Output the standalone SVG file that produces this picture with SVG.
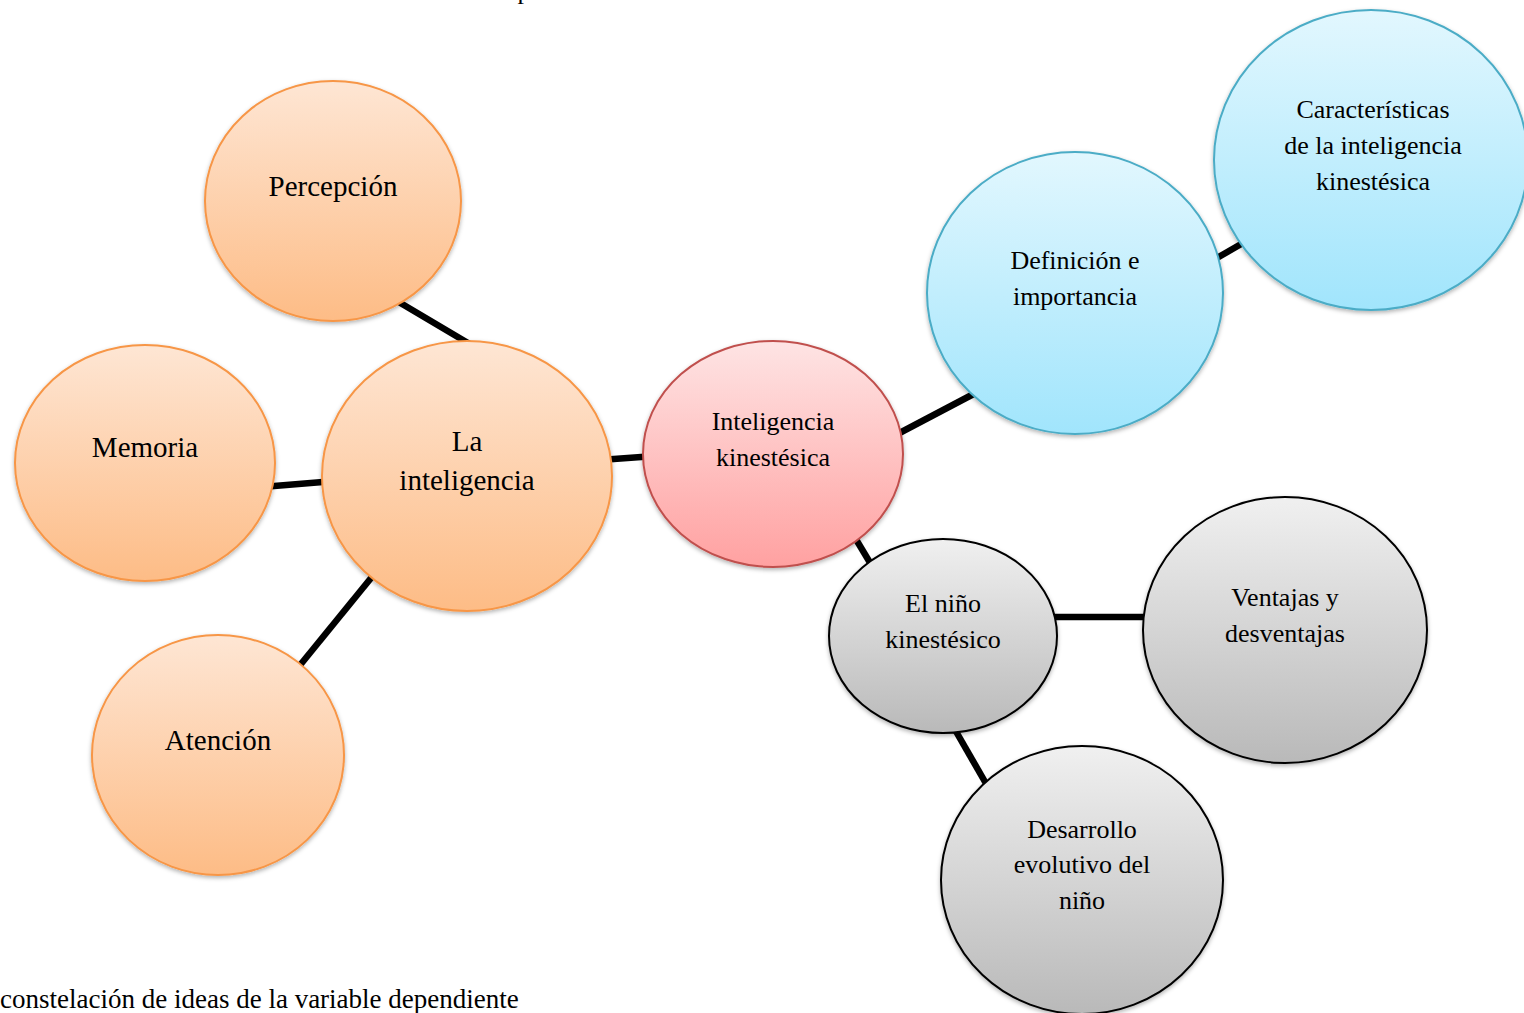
<svg xmlns="http://www.w3.org/2000/svg" width="1524" height="1013" viewBox="0 0 1524 1013">
<defs>
<linearGradient id="gOr" x1="0" y1="0" x2="0" y2="1"><stop offset="0" stop-color="#fee6d4"/><stop offset="1" stop-color="#fdbc86"/></linearGradient>
<linearGradient id="gRd" x1="0" y1="0" x2="0" y2="1"><stop offset="0" stop-color="#fee4e4"/><stop offset="1" stop-color="#ffa1a1"/></linearGradient>
<linearGradient id="gBl" x1="0" y1="0" x2="0" y2="1"><stop offset="0" stop-color="#e2f7fe"/><stop offset="1" stop-color="#a1e5fc"/></linearGradient>
<linearGradient id="gGr" x1="0" y1="0" x2="0" y2="1"><stop offset="0" stop-color="#f0f0f0"/><stop offset="1" stop-color="#b9b9b9"/></linearGradient>
<filter id="sh" x="-10%" y="-10%" width="120%" height="125%"><feDropShadow dx="0" dy="2" stdDeviation="2" flood-color="#000" flood-opacity="0.3"/></filter>
</defs>
<style>
.t{font-family:"Liberation Serif","Times New Roman",serif;fill:#000;text-anchor:middle}
.s26{font-size:26px}
.s29{font-size:29px}
.or{fill:url(#gOr);stroke:#f79646;stroke-width:2;filter:url(#sh)}
.rd{fill:url(#gRd);stroke:#c0504d;stroke-width:2;filter:url(#sh)}
.bl{fill:url(#gBl);stroke:#4bacc6;stroke-width:2;filter:url(#sh)}
.gr{fill:url(#gGr);stroke:#000;stroke-width:2;filter:url(#sh)}
.c{stroke:#000;stroke-width:6.5;fill:none}
</style>
<rect width="1524" height="1013" fill="#fff"/>
<text class="t s26" x="524" y="-1">p</text>
<g id="connectors">
<line class="c" x1="392" y1="298" x2="473" y2="346"/>
<line class="c" x1="262" y1="487" x2="335" y2="481"/>
<line class="c" x1="292" y1="675" x2="380" y2="567"/>
<line class="c" x1="600" y1="460" x2="655" y2="456"/>
<line class="c" x1="890" y1="438" x2="985" y2="388"/>
<line class="c" x1="1210" y1="262" x2="1255" y2="236"/>
<line class="c" x1="851" y1="531" x2="875" y2="571"/>
<line class="c" x1="1050" y1="617" x2="1150" y2="617"/>
<line class="c" x1="950" y1="721" x2="992" y2="794"/>
</g>
<g id="percepcion"><ellipse class="or" cx="333" cy="201" rx="128" ry="120"/><text class="t s29" x="333" y="196">Percepción</text></g>
<g id="memoria"><ellipse class="or" cx="145" cy="463" rx="130" ry="118"/><text class="t s29" x="145" y="457">Memoria</text></g>
<g id="atencion"><ellipse class="or" cx="218" cy="755" rx="126" ry="120"/><text class="t s29" x="218" y="750">Atención</text></g>
<g id="la-inteligencia"><ellipse class="or" cx="467" cy="476" rx="145" ry="135"/><text class="t s29" x="467" y="451">La</text><text class="t s29" x="467" y="490">inteligencia</text></g>
<g id="inteligencia-kinestesica"><ellipse class="rd" cx="773" cy="454" rx="130" ry="113"/><text class="t s26" x="773" y="430">Inteligencia</text><text class="t s26" x="773" y="466">kinestésica</text></g>
<g id="definicion"><ellipse class="bl" cx="1075" cy="293" rx="148" ry="141"/><text class="t s26" x="1075" y="269">Definición e</text><text class="t s26" x="1075" y="305">importancia</text></g>
<g id="caracteristicas"><ellipse class="bl" cx="1371" cy="160" rx="157" ry="150"/><text class="t s26" x="1373" y="118">Características</text><text class="t s26" x="1373" y="154">de la inteligencia</text><text class="t s26" x="1373" y="190">kinestésica</text></g>
<g id="nino-kinestesico"><ellipse class="gr" cx="943" cy="636" rx="114" ry="97"/><text class="t s26" x="943" y="612">El niño</text><text class="t s26" x="943" y="648">kinestésico</text></g>
<g id="ventajas"><ellipse class="gr" cx="1285" cy="630" rx="142" ry="133"/><text class="t s26" x="1285" y="606">Ventajas y</text><text class="t s26" x="1285" y="642">desventajas</text></g>
<g id="desarrollo"><ellipse class="gr" cx="1082" cy="880" rx="141" ry="134"/><text class="t s26" x="1082" y="838">Desarrollo</text><text class="t s26" x="1082" y="873">evolutivo del</text><text class="t s26" x="1082" y="909">niño</text></g>
<text class="t" x="0" y="1008" style="text-anchor:start;font-size:27px">constelación de ideas de la variable dependiente</text>
</svg>
